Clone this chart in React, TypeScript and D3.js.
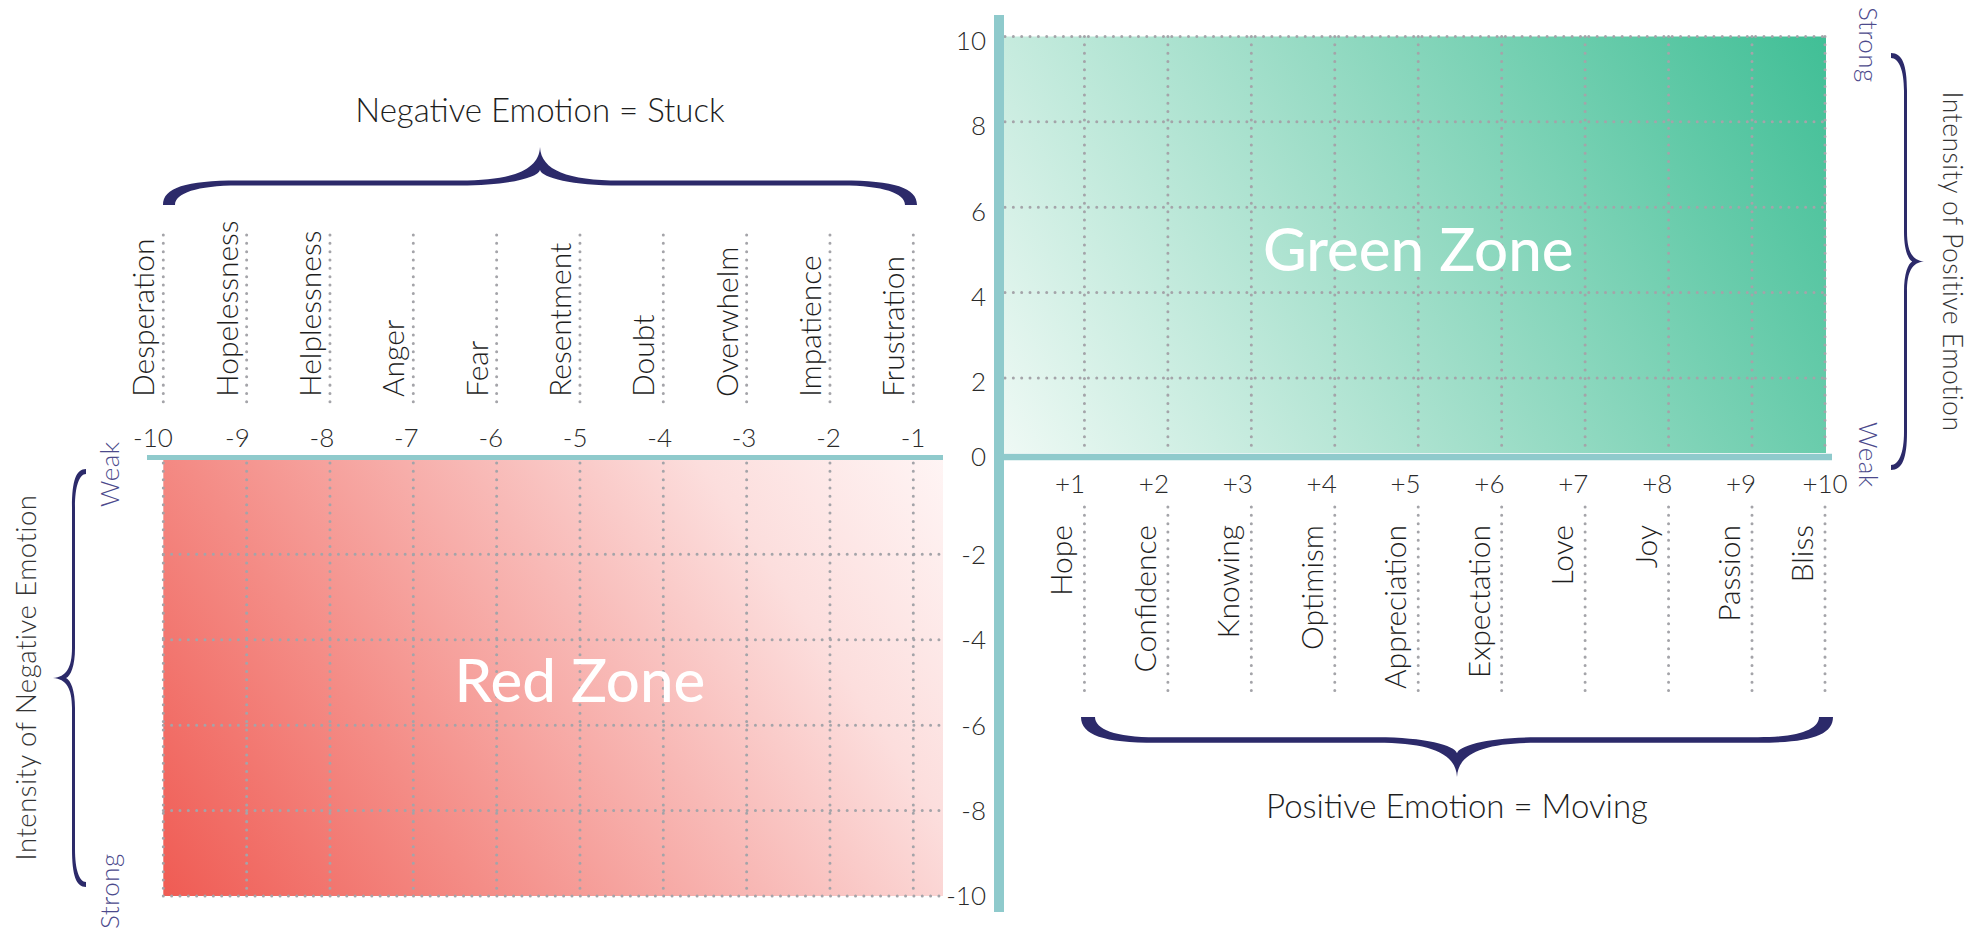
import React from "react";
import * as d3 from "d3";

// ---------- data ----------
const negValues = [-10, -9, -8, -7, -6, -5, -4, -3, -2, -1];
const negCategories = ["Desperation", "Hopelessness", "Helplessness", "Anger", "Fear", "Resentment", "Doubt", "Overwhelm", "Impatience", "Frustration"];
const posValues = [1, 2, 3, 4, 5, 6, 7, 8, 9, 10];
const posCategories = ["Hope", "Confidence", "Knowing", "Optimism", "Appreciation", "Expectation", "Love", "Joy", "Passion", "Bliss"];
const posTickLabels = ["+1", "+2", "+3", "+4", "+5", "+6", "+7", "+8", "+9", "+10"];
const posYTicks = [2, 4, 6, 8, 10];
const negYTicks = [-2, -4, -6, -8, -10];
const titles = { neg: "Negative Emotion = Stuck", pos: "Positive Emotion = Moving" };
const zoneLabels = { red: "Red Zone", green: "Green Zone" };
const intensityLabels = { neg: "Intensity of Negative Emotion", pos: "Intensity of Positive Emotion" };

// ---------- layout ----------
const W = 1986, H = 930;
const axisX = 999, axisY = 457;
const redRight = 943, greenRight = 1826;
const FONT = "Lato, 'Open Sans', 'DejaVu Sans', sans-serif";
const TEAL = "#8fcacc";
const NAVY = "#2c2a6a";
const MUTED = "#4c4a8c";
const DOT = "#a4a4a9";

const xRed = d3.scaleLinear().domain([-10, -1]).range([163.3, 913.3]);
const xRedLabel = d3.scaleLinear().domain([-10, -1]).range([153, 913]);
const yRed = d3.scaleLinear().domain([-10, 0]).range([896, 468.9]);
const xGreen = d3.scaleLinear().domain([0, 9, 10]).range([1001, 1752, 1825]);
const xGreenLabel = d3.scaleLinear().domain([1, 10]).range([1070, 1825]);
const yGreen = d3.scaleLinear().domain([0, 10]).range([463.3, 36.5]);

type Map = (u: number, v: number) => [number, number];
function bracePath(len: number, a: number, h: number, tA: number, tE: number, rE: number, rT: number, map: Map) {
  const mid = len / 2;
  const ao = a + tA / 2, ai = a - tA / 2;
  const notch = a + (h - a) * 0.36;
  const P = (u: number, v: number) => {
    const [x, y] = map(u, v);
    return `${x.toFixed(1)},${y.toFixed(1)}`;
  };
  return [
    `M${P(0, 0)}`,
    `C${P(0, ao * 0.7)} ${P(rE * 0.3, ao)} ${P(rE, ao)}`,
    `L${P(mid - rT, ao)}`,
    `C${P(mid - rT * 0.35, ao)} ${P(mid - 1, ao + (h - ao) * 0.3)} ${P(mid, h)}`,
    `C${P(mid + 1, ao + (h - ao) * 0.3)} ${P(mid + rT * 0.35, ao)} ${P(mid + rT, ao)}`,
    `L${P(len - rE, ao)}`,
    `C${P(len - rE * 0.3, ao)} ${P(len, ao * 0.7)} ${P(len, 0)}`,
    `L${P(len - tE, 0)}`,
    `C${P(len - tE, ai * 0.6)} ${P(len - rE * 0.45, ai)} ${P(len - rE, ai)}`,
    `L${P(mid + rT, ai)}`,
    `C${P(mid + rT * 0.4, ai)} ${P(mid + 2, ai + (notch - ai) * 0.5)} ${P(mid, notch)}`,
    `C${P(mid - 2, ai + (notch - ai) * 0.5)} ${P(mid - rT * 0.4, ai)} ${P(mid - rT, ai)}`,
    `L${P(rE, ai)}`,
    `C${P(rE * 0.45, ai)} ${P(tE, ai * 0.6)} ${P(tE, 0)}`,
    "Z",
  ].join(" ");
}

const dotStyle = { stroke: DOT, strokeWidth: 3, strokeDasharray: "0.01 8.33", strokeLinecap: "round" as const, fill: "none" };

export default function App() {
  const topBrace = bracePath(754, 22, 58, 5, 12, 75, 80, (u, v) => [163 + u, 205 - v]);
  const bottomBrace = bracePath(752, 23, 60, 5.5, 14, 75, 80, (u, v) => [1081 + u, 717 + v]);
  const leftBrace = bracePath(418, 12.5, 33, 3, 5, 38, 30, (u, v) => [86 - v, 469 + u]);
  const rightBrace = bracePath(417, 14.5, 33, 3, 5, 38, 30, (u, v) => [1891 + v, 53 + u]);

  const redStops = [
    [0, "#ef5850"], [0.3, "#f48c86"], [0.55, "#f8b9b6"], [0.75, "#fcdedd"], [1, "#fff8f8"],
  ] as const;
  const greenStops = [
    [0, "#f1faf6"], [0.5, "#97dbc4"], [1, "#3bbd93"],
  ] as const;

  return (
    <svg width={W} height={H} style={{ position: "fixed", left: 0, top: 0, background: "#fff" }} fontFamily={FONT}>
      <defs>
        <linearGradient id="redGrad" gradientUnits="userSpaceOnUse" x1={163} y1={930} x2={943} y2={400}>
          {redStops.map(([o, c]) => <stop key={o} offset={o} stopColor={c} />)}
        </linearGradient>
        <linearGradient id="greenGrad" gradientUnits="userSpaceOnUse" x1={1004} y1={480} x2={1826} y2={-20}>
          {greenStops.map(([o, c]) => <stop key={o} offset={o} stopColor={c} />)}
        </linearGradient>
      </defs>
      <rect width={W} height={H} fill="#fff" />

      {/* Red zone */}
      <rect x={xRed(-10)} y={axisY + 3} width={redRight - xRed(-10)} height={yRed(-10) - axisY - 3} fill="url(#redGrad)" />
      {negValues.map((v) => (
        <line key={"rv" + v} x1={xRed(v)} x2={xRed(v)} y1={axisY + 6} y2={yRed(-10)} style={dotStyle} />
      ))}
      {negYTicks.map((v) => (
        <line key={"rh" + v} x1={xRed(-10)} x2={redRight} y1={yRed(v)} y2={yRed(v)} style={dotStyle} />
      ))}

      {/* Green zone */}
      <rect x={axisX + 5} y={yGreen(10)} width={greenRight - axisX - 5} height={axisY - 4 - yGreen(10)} fill="url(#greenGrad)" />
      {posValues.map((v) => (
        <line key={"gv" + v} x1={xGreen(v)} x2={xGreen(v)} y1={yGreen(10)} y2={axisY - 4} style={dotStyle} />
      ))}
      {posYTicks.map((v) => (
        <line key={"gh" + v} x1={axisX + 6} x2={greenRight} y1={yGreen(v)} y2={yGreen(v)} style={dotStyle} />
      ))}

      {/* category leader lines */}
      {negValues.map((v) => (
        <line key={"nc" + v} x1={xRed(v)} x2={xRed(v)} y1={235} y2={405} style={dotStyle} />
      ))}
      {posValues.map((v) => (
        <line key={"pc" + v} x1={xGreen(v)} x2={xGreen(v)} y1={507} y2={698} style={dotStyle} />
      ))}

      {/* axes */}
      <line x1={147} x2={redRight} y1={axisY + 0.5} y2={axisY + 0.5} stroke={TEAL} strokeWidth={5} />
      <line x1={axisX} x2={1832} y1={axisY} y2={axisY} stroke={TEAL} strokeWidth={6.5} />
      <line x1={axisX} x2={axisX} y1={15} y2={912} stroke={TEAL} strokeWidth={10} />

      {/* y tick labels */}
      {posYTicks.map((v) => (
        <text key={"yp" + v} x={986} y={yGreen(v) + 4} dy="0.36em" textAnchor="end" fontSize={26} fontWeight={300} fill="#2a2a2a">{v}</text>
      ))}
      <text x={986} y={axisY} dy="0.36em" textAnchor="end" fontSize={26} fontWeight={300} fill="#2a2a2a">0</text>
      {negYTicks.map((v) => (
        <text key={"yn" + v} x={986} y={yRed(v)} dy="0.36em" textAnchor="end" fontSize={26} fontWeight={300} fill="#2a2a2a">{v}</text>
      ))}

      {/* x tick labels */}
      {negValues.map((v) => (
        <text key={"xn" + v} x={xRedLabel(v)} y={447} textAnchor="middle" fontSize={26} fontWeight={300} fill="#2a2a2a">{v}</text>
      ))}
      {posValues.map((v, i) => (
        <text key={"xp" + v} x={xGreenLabel(v)} y={493} textAnchor="middle" fontSize={26} fontWeight={300} fill="#2a2a2a">{posTickLabels[i]}</text>
      ))}

      {/* category labels */}
      {negValues.map((v, i) => (
        <text key={"nl" + v} transform={`translate(${xRed(v) - 9},397) rotate(-90)`} textAnchor="start" fontSize={30} fontWeight={300} fill="#1e1e1e">{negCategories[i]}</text>
      ))}
      {posValues.map((v, i) => (
        <text key={"pl" + v} transform={`translate(${xGreen(v) - 12},525) rotate(-90)`} textAnchor="end" fontSize={30} fontWeight={300} fill="#1e1e1e">{posCategories[i]}</text>
      ))}

      {/* braces */}
      <path d={topBrace} fill={NAVY} />
      <path d={bottomBrace} fill={NAVY} />
      <path d={leftBrace} fill={NAVY} />
      <path d={rightBrace} fill={NAVY} />

      {/* titles */}
      <text x={540} y={122} textAnchor="middle" fontSize={33} fontWeight={300} fill="#1e1e1e">{titles.neg}</text>
      <text x={1457} y={818} textAnchor="middle" fontSize={33} fontWeight={300} fill="#1e1e1e">{titles.pos}</text>

      {/* zone labels */}
      <text x={xRed(-5)} y={702} textAnchor="middle" fontSize={60} fontWeight={500} fill="#fff">{zoneLabels.red}</text>
      <text x={xGreen(5)} y={271} textAnchor="middle" fontSize={60} fontWeight={500} fill="#fff">{zoneLabels.green}</text>

      {/* intensity labels */}
      <text transform={`translate(36,677.5) rotate(-90)`} textAnchor="middle" fontSize={27.5} fontWeight={300} letterSpacing={0.5} fill="#333">{intensityLabels.neg}</text>
      <text transform={`translate(1943,261.5) rotate(90)`} textAnchor="middle" fontSize={26.5} fontWeight={300} letterSpacing={0.5} fill="#333">{intensityLabels.pos}</text>

      {/* strong / weak */}
      <text transform={`translate(119,507) rotate(-90)`} textAnchor="start" fontSize={26} fontWeight={300} letterSpacing={0.5} fill={MUTED}>Weak</text>
      <text transform={`translate(119,929) rotate(-90)`} textAnchor="start" fontSize={26} fontWeight={300} letterSpacing={0.5} fill={MUTED}>Strong</text>
      <text transform={`translate(1859,7) rotate(90)`} textAnchor="start" fontSize={26} fontWeight={300} letterSpacing={0.5} fill={MUTED}>Strong</text>
      <text transform={`translate(1859,422) rotate(90)`} textAnchor="start" fontSize={26} fontWeight={300} letterSpacing={0.5} fill={MUTED}>Weak</text>
    </svg>
  );
}
